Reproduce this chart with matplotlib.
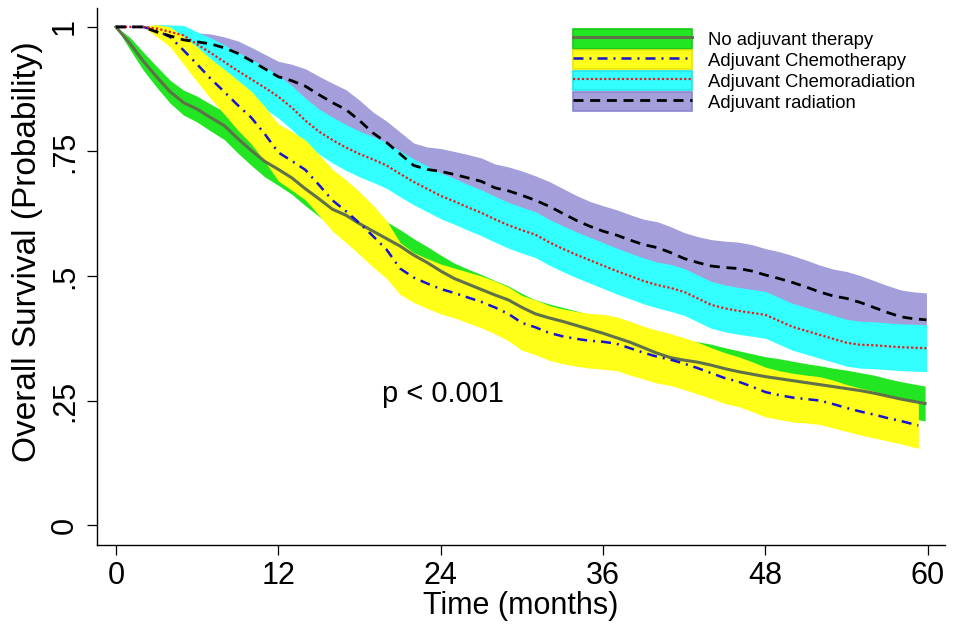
import matplotlib
matplotlib.use("Agg")
import matplotlib.pyplot as plt
from matplotlib.patches import Patch
from matplotlib.lines import Line2D

plt.rcParams['font.family'] = ['Liberation Sans', 'DejaVu Sans']

# ---------------- data ----------------
months = list(range(60))  # 0..59, last point appended per group at end of follow-up

groups = ["No adjuvant therapy", "Adjuvant Chemotherapy",
          "Adjuvant Chemoradiation", "Adjuvant radiation"]
end_month = [59.8, 59.3, 59.9, 59.9]

surv_none = [1.0, 0.968, 0.932, 0.9, 0.87, 0.848, 0.835, 0.818, 0.802, 0.776,
             0.752, 0.73, 0.714, 0.697, 0.675, 0.655, 0.634, 0.622, 0.605, 0.59,
             0.575, 0.56, 0.542, 0.527, 0.51, 0.495, 0.484, 0.473, 0.462, 0.452,
             0.437, 0.424, 0.416, 0.409, 0.401, 0.393, 0.385, 0.376, 0.367, 0.356,
             0.345, 0.336, 0.331, 0.327, 0.321, 0.314, 0.308, 0.303, 0.298, 0.294,
             0.29, 0.286, 0.282, 0.278, 0.274, 0.27, 0.265, 0.259, 0.253, 0.248,
             0.244]
surv_chemo = [1.0, 1.0, 1.0, 0.993, 0.98, 0.953, 0.925, 0.896, 0.87, 0.843,
              0.818, 0.785, 0.748, 0.731, 0.713, 0.683, 0.652, 0.63, 0.606, 0.58,
              0.553, 0.515, 0.497, 0.485, 0.474, 0.466, 0.457, 0.448, 0.437, 0.424,
              0.406, 0.397, 0.386, 0.379, 0.374, 0.37, 0.368, 0.364, 0.355, 0.346,
              0.338, 0.332, 0.324, 0.315, 0.305, 0.295, 0.288, 0.278, 0.267, 0.261,
              0.256, 0.253, 0.25, 0.243, 0.235, 0.228, 0.222, 0.215, 0.209, 0.202,
              0.2]
surv_chemorad = [1.0, 1.0, 1.0, 0.997, 0.99, 0.983, 0.965, 0.948, 0.93, 0.912,
                 0.895, 0.878, 0.86, 0.838, 0.812, 0.79, 0.773, 0.758, 0.745, 0.734,
                 0.722, 0.705, 0.689, 0.675, 0.661, 0.65, 0.638, 0.627, 0.614, 0.602,
                 0.592, 0.583, 0.568, 0.555, 0.543, 0.532, 0.521, 0.51, 0.5, 0.49,
                 0.482, 0.476, 0.468, 0.455, 0.442, 0.435, 0.43, 0.426, 0.422, 0.41,
                 0.398, 0.39, 0.382, 0.374, 0.366, 0.362, 0.361, 0.359, 0.357, 0.356,
                 0.355]
surv_rad = [1.0, 1.0, 1.0, 0.99, 0.982, 0.974, 0.97, 0.966, 0.958, 0.947,
            0.932, 0.916, 0.9, 0.892, 0.881, 0.864, 0.848, 0.834, 0.812, 0.787,
            0.768, 0.745, 0.722, 0.714, 0.71, 0.704, 0.697, 0.69, 0.677, 0.671,
            0.662, 0.652, 0.64, 0.626, 0.612, 0.6, 0.59, 0.582, 0.572, 0.563,
            0.557, 0.547, 0.535, 0.527, 0.52, 0.517, 0.515, 0.51, 0.502, 0.495,
            0.487, 0.478, 0.468, 0.46, 0.455, 0.447, 0.437, 0.427, 0.418, 0.414,
            0.412]

# 95% CI half-widths
ci_none = [0, .012, .018, .021, .023, .025, .026, .027, .028, .029,
           .03, .031, .032, .033, .034, .035, .035, .035, .035, .035,
           .034, .033, .033, .032, .032, .031, .03, .03, .029, .028,
           .028, .028, .028, .028, .029, .03, .031, .032, .033, .034,
           .036, .038, .04, .041, .042, .042, .042, .041, .04, .04,
           .039, .038, .038, .037, .037, .036, .036, .035, .035, .035,
           .035]
ci_chemo = [0, 0, 0, .012, .02, .028, .035, .04, .045, .05,
            .053, .055, .057, .059, .06, .061, .062, .063, .063, .062,
            .058, .052, .05, .05, .05, .05, .051, .052, .053, .054,
            .055, .055, .055, .055, .055, .055, .055, .054, .054, .053,
            .053, .052, .052, .052, .051, .051, .05, .05, .05, .049,
            .049, .048, .048, .048, .047, .047, .047, .046, .046, .046,
            .046]
ci_chemorad = [0, 0, 0, .008, .014, .02, .025, .03, .034, .037,
               .04, .042, .043, .044, .045, .045, .046, .046, .046, .046,
               .046, .046, .046, .046, .046, .046, .046, .046, .046, .046,
               .046, .046, .046, .046, .046, .046, .046, .046, .046, .046,
               .046, .047, .047, .047, .047, .047, .047, .047, .047, .047,
               .047, .047, .047, .047, .047, .047, .047, .047, .047, .047,
               .047]
ci_rad = [0, 0, 0, .008, .012, .015, .018, .02, .022, .025,
          .027, .029, .031, .033, .035, .037, .039, .04, .041, .042,
          .043, .044, .045, .045, .046, .046, .047, .047, .048, .048,
          .049, .049, .05, .05, .05, .05, .051, .051, .051, .051,
          .052, .052, .052, .052, .053, .053, .053, .053, .053, .054,
          .054, .054, .054, .054, .054, .054, .054, .054, .054, .054,
          .054]

xticks = [0, 12, 24, 36, 48, 60]
yticks = [0, 0.25, 0.5, 0.75, 1.0]
ytick_labels = ['0', '.25', '.5', '.75', '1']
p_text = "p < 0.001"

# ---------------- styling ----------------
band_colors = ['#22e622', '#ffff1a', '#33ffff', '#a39fdb']
band_edges = ['#18c818', '#e6e600', '#1ee6e6', '#8a85cc']
line_colors = ['#5f7148', '#1414d2', '#e81c1c', '#000000']
line_styles = ['-', (0, (4, 2.4, 0.8, 2.4)), (0, (1, 1)), (0, (3.6, 2.4))]
line_widths = [2.2, 1.8, 1.6, 2.0]

fig = plt.figure(figsize=(9.6, 6.27), dpi=100)
ax = fig.add_axes([97 / 960, 1 - 545 / 627, 848 / 960, 537 / 627])

series = [surv_none, surv_chemo, surv_chemorad, surv_rad]
cis = [ci_none, ci_chemo, ci_chemorad, ci_rad]
times = [months + [e] for e in end_month]

# band draw order: purple, cyan, green, yellow
for i in [3, 2, 0, 1]:
    lo = [s - h for s, h in zip(series[i], cis[i])]
    hi = [s + h for s, h in zip(series[i], cis[i])]
    ax.fill_between(times[i], lo, hi, color=band_colors[i], lw=0, zorder=1)

for i in [0, 1, 2, 3]:
    ax.plot(times[i], series[i], color=line_colors[i], ls=line_styles[i],
            lw=line_widths[i], zorder=3)

ax.set_xlim(-1.4, 61.27)
ax.set_ylim(-0.04, 1.038)
ax.set_xticks(xticks)
ax.set_xticklabels([str(x) for x in xticks])
ax.set_yticks(yticks)
ax.set_yticklabels(ytick_labels)

for s in ['top', 'right']:
    ax.spines[s].set_visible(False)
for s in ['left', 'bottom']:
    ax.spines[s].set_linewidth(1.0)

ax.tick_params(axis='both', length=7.2, width=0.9, labelsize=22)
ax.tick_params(axis='x', pad=4)
ax.tick_params(axis='y', pad=5, labelrotation=90)
for lab in ax.get_yticklabels():
    lab.set_va('center')

ax.set_xlabel("Time (months)", fontsize=22, va='center')
ax.xaxis.set_label_coords(0.5, -0.1136)
ax.set_ylabel("Overall Survival (Probability)", fontsize=24, va='center', ha='center')
ax.yaxis.set_label_coords(-0.0825, 0.547)

ax.text(24.2, 0.263, p_text, fontsize=21, ha='center', va='center')

handles = []
for i in range(4):
    handles.append((Patch(facecolor=band_colors[i], edgecolor=band_edges[i], lw=1.2),
                    Line2D([], [], color=line_colors[i], ls=line_styles[i], lw=line_widths[i])))
leg = fig.legend(handles, groups, loc='upper left',
                 bbox_to_anchor=(573 / 960, 1 - 29 / 627), frameon=False,
                 fontsize=13.3, handlelength=6.45, handleheight=1.25,
                 labelspacing=0.05, handletextpad=0.85, borderpad=0, borderaxespad=0)

fig.savefig("out.png", dpi=100)
